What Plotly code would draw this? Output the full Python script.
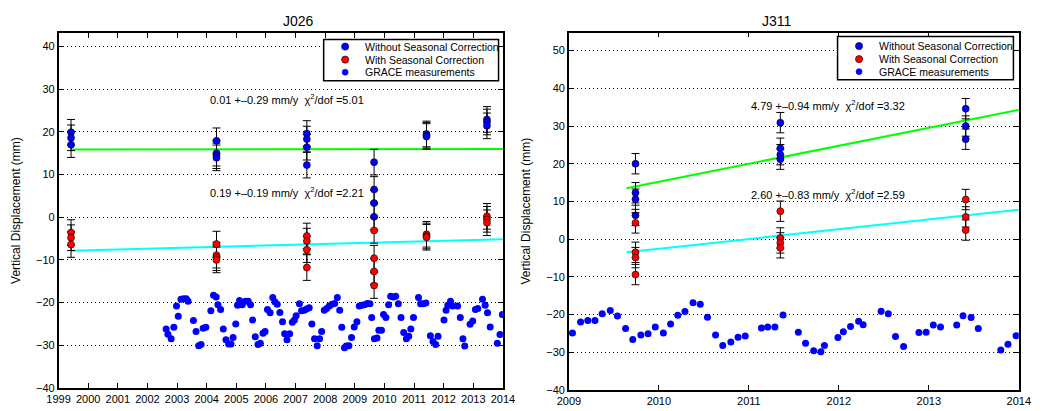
import plotly.graph_objects as go

# ---------------- J026 (left) ----------------
j026_epochs = [1999.42, 2004.33, 2007.38, 2009.65, 2011.42, 2013.46]
j026_raw = [[19.9, 18.6, 17.0], [17.9, 15.0, 14.4, 13.9], [19.6, 18.3, 16.4, 12.2],
            [12.9, 6.5, 3.3, 0.1], [19.5, 19.2, 18.9], [22.9, 22.3, 21.4]]
j026_corr = [[-3.6, -4.8, -6.4], [-6.3, -8.9, -9.5, -10.0], [-4.4, -5.6, -7.6, -11.8],
             [-3.1, -9.6, -12.7, -16.0], [-4.0, -4.4, -4.7], [0.2, -0.5, -1.3]]
j026_err = 3.0
j026_fit_x = [1999.42, 2014.0]
j026_fit_raw = [15.85, 15.95]
j026_fit_corr = [-7.85, -5.15]
j026_grace_t = [2002.63, 2002.69, 2002.80, 2002.89, 2002.98, 2003.04, 2003.13, 2003.22, 2003.31, 2003.37,
                2003.55, 2003.64, 2003.73, 2003.81, 2003.88, 2003.97, 2004.14, 2004.23, 2004.32, 2004.38,
                2004.47, 2004.56, 2004.65, 2004.74, 2004.82, 2004.89, 2004.98, 2005.04, 2005.11, 2005.20,
                2005.31, 2005.40, 2005.48, 2005.55, 2005.64, 2005.73, 2005.81, 2005.90, 2005.97, 2006.05,
                2006.14, 2006.23, 2006.30, 2006.38, 2006.47, 2006.56, 2006.63, 2006.71, 2006.80, 2006.89,
                2006.96, 2007.02, 2007.13, 2007.20, 2007.29, 2007.37, 2007.46, 2007.55, 2007.64, 2007.73,
                2007.81, 2007.88, 2007.97, 2008.05, 2008.14, 2008.23, 2008.32, 2008.41, 2008.49, 2008.56,
                2008.65, 2008.71, 2008.80, 2008.89, 2008.98, 2009.07, 2009.15, 2009.24, 2009.33, 2009.42,
                2009.51, 2009.57, 2009.66, 2009.75, 2009.81, 2009.90, 2009.97, 2010.05, 2010.14, 2010.21,
                2010.30, 2010.38, 2010.47, 2010.56, 2010.65, 2010.74, 2010.82, 2010.89, 2010.98, 2011.15,
                2011.22, 2011.31, 2011.40, 2011.55, 2011.64, 2011.73, 2011.81, 2012.01, 2012.08, 2012.14,
                2012.23, 2012.30, 2012.47, 2012.56, 2012.65, 2012.71, 2012.89, 2012.98, 2013.07, 2013.15,
                2013.31, 2013.40, 2013.48, 2013.57, 2013.81, 2013.90, 2013.98]
j026_grace_v = [-26.2, -27.4, -28.5, -25.8, -20.8, -23.2, -19.2, -19.1, -19.1, -19.7,
                -24.2, -26.8, -30.1, -29.8, -26.0, -25.8, -21.9, -18.3, -18.7, -20.5,
                -21.6, -26.2, -28.7, -29.7, -29.7, -28.2, -25.0, -20.6, -19.5, -20.5,
                -19.7, -19.7, -20.5, -24.1, -28.0, -29.8, -29.5, -27.2, -26.8, -21.6,
                -22.4, -18.8, -19.8, -20.4, -22.3, -24.5, -27.3, -28.7, -27.3, -24.6,
                -24.1, -23.1, -20.3, -21.9, -21.8, -21.5, -21.2, -25.0, -28.5, -30.1,
                -28.5, -26.8, -21.8, -21.4, -20.8, -20.4, -20.2, -18.8, -21.8, -25.8,
                -30.6, -30.2, -30.1, -28.2, -25.7, -24.5, -20.8, -20.6, -20.5, -20.2,
                -20.3, -23.5, -28.5, -28.3, -26.5, -26.5, -22.8, -23.5, -20.5, -18.5,
                -18.7, -18.5, -20.3, -23.5, -27.0, -28.5, -27.9, -26.2, -23.5, -18.8,
                -20.3, -20.3, -20.1, -27.8, -29.1, -29.8, -27.9, -24.1, -21.8, -20.6,
                -19.7, -20.8, -20.8, -23.5, -28.5, -30.2, -25.1, -24.3, -21.6, -21.4,
                -19.2, -20.6, -22.4, -25.7, -29.5, -27.5, -22.8]
j026_text_raw = "0.01 +\u20130.29 mm/y  \u03c7<sup>2</sup>/dof =5.01"
j026_text_corr = "0.19 +\u20130.19 mm/y  \u03c7<sup>2</sup>/dof =2.21"
j026_text_pos = [(2006.72, 27.7), (2006.72, 5.8)]

# ---------------- J311 (right) ----------------
j311_epochs = [2009.74, 2011.35, 2013.41]
j311_raw = [[20.0, 12.3, 10.6, 6.3], [30.9, 24.1, 22.4, 21.2], [34.6, 30.0, 26.5]]
j311_corr = [[4.3, -3.5, -4.9, -9.4], [7.4, 0.3, -1.0, -2.3], [10.5, 5.9, 2.4]]
j311_err = 2.7
j311_fit_x = [2009.64, 2014.0]
j311_fit_raw = [13.5, 34.3]
j311_fit_corr = [-3.5, 7.8]
j311_grace_t = [2009.04, 2009.13, 2009.21, 2009.29, 2009.37, 2009.46, 2009.54, 2009.63, 2009.71, 2009.80,
                2009.88, 2009.96, 2010.05, 2010.13, 2010.21, 2010.29, 2010.38, 2010.46, 2010.54, 2010.63,
                2010.71, 2010.80, 2010.88, 2010.96, 2011.14, 2011.21, 2011.29, 2011.38, 2011.55, 2011.63,
                2011.72, 2011.80, 2011.84, 2011.99, 2012.05, 2012.13, 2012.22, 2012.27, 2012.47, 2012.55,
                2012.63, 2012.72, 2012.89, 2012.97, 2013.05, 2013.13, 2013.31, 2013.38, 2013.47, 2013.55,
                2013.80, 2013.88, 2013.97]
j311_grace_v = [-24.9, -22.0, -21.6, -21.6, -19.8, -18.9, -20.4, -23.7, -26.6, -25.4,
                -25.1, -23.3, -24.9, -22.5, -20.2, -19.2, -16.9, -17.3, -20.7, -25.4,
                -28.2, -27.3, -26.0, -25.7, -23.6, -23.3, -23.3, -20.1, -24.7, -27.6,
                -29.6, -29.9, -28.2, -26.1, -24.6, -23.2, -21.8, -22.7, -19.1, -19.8,
                -25.8, -28.5, -24.8, -24.7, -22.8, -23.3, -22.8, -20.3, -20.8, -23.7,
                -29.4, -27.9, -25.6]
j311_text_raw = "4.79 +\u20130.94 mm/y  \u03c7<sup>2</sup>/dof =3.32"
j311_text_corr = "2.60 +\u20130.83 mm/y  \u03c7<sup>2</sup>/dof =2.59"
j311_text_pos = [(2011.88, 35.7), (2011.88, 12.0)]

titles = ["J026", "J311"]
legend_names = ["Without Seasonal Correction", "With Seasonal Correction", "GRACE measurements"]

FONT = "Liberation Sans, Arial, Helvetica, sans-serif"
BLUE = "#0000ff"
RED = "#ff0000"
W, H = 1043, 411

fig = go.Figure()


def flatten(epochs, groups):
    xs, ys = [], []
    for e, g in zip(epochs, groups):
        for v in g:
            xs.append(e)
            ys.append(v)
    return xs, ys


panels = [
    dict(epochs=j026_epochs, raw=j026_raw, corr=j026_corr, err=j026_err, fx=j026_fit_x,
         fr=j026_fit_raw, fc=j026_fit_corr, gt=j026_grace_t, gv=j026_grace_v,
         texts=[j026_text_raw, j026_text_corr], tpos=j026_text_pos, xa="x", ya="y",
         legbox=(319, 40, 498, 82), legsym_x=341, legtxt_x=359, legrows=(47.3, 60.5, 73.3)),
    dict(epochs=j311_epochs, raw=j311_raw, corr=j311_corr, err=j311_err, fx=j311_fit_x,
         fr=j311_fit_raw, fc=j311_fit_corr, gt=j311_grace_t, gv=j311_grace_v,
         texts=[j311_text_raw, j311_text_corr], tpos=j311_text_pos, xa="x2", ya="y2",
         legbox=(845, 37, 1025, 81), legsym_x=867, legtxt_x=885, legrows=(46.7, 60.0, 72.7)),
]

for p in panels:
    # fit lines
    fig.add_trace(go.Scatter(x=p["fx"], y=p["fr"], mode="lines", line=dict(color="#00ff00", width=2),
                             xaxis=p["xa"], yaxis=p["ya"], showlegend=False, hoverinfo="skip"))
    fig.add_trace(go.Scatter(x=p["fx"], y=p["fc"], mode="lines", line=dict(color="#00ffff", width=2),
                             xaxis=p["xa"], yaxis=p["ya"], showlegend=False, hoverinfo="skip"))
    for groups, col, name in [(p["raw"], BLUE, legend_names[0]), (p["corr"], RED, legend_names[1])]:
        xs, ys = flatten(p["epochs"], groups)
        fig.add_trace(go.Scatter(
            x=xs, y=ys, mode="markers", name=name, showlegend=False,
            marker=dict(color=col, size=7, line=dict(color="black", width=0.6)),
            error_y=dict(type="constant", value=p["err"], color="black", thickness=1, width=4),
            xaxis=p["xa"], yaxis=p["ya"]))
    fig.add_trace(go.Scatter(
        x=p["gt"], y=p["gv"], mode="markers", name=legend_names[2], showlegend=False,
        marker=dict(color=BLUE, size=7, symbol="circle"),
        xaxis=p["xa"], yaxis=p["ya"]))
    for t, (tx, ty) in zip(p["texts"], p["tpos"]):
        fig.add_annotation(x=tx, y=ty, xref=p["xa"], yref=p["ya"], text=t, showarrow=False,
                           font=dict(family=FONT, size=11, color="black"))

    # compact MATLAB-style legend box
    bx0, by0, bx1, by1 = p["legbox"]
    fig.add_shape(type="rect", xref="paper", yref="paper", x0=bx0 / W, x1=bx1 / W,
                  y0=(H - by1) / H, y1=(H - by0) / H, fillcolor="white",
                  line=dict(color="black", width=1.5), layer="above")
    sym_styles = [(BLUE, "black", 3.6), (RED, "black", 3.6), (BLUE, BLUE, 3.0)]
    for (fill, edge, r), name, ry in zip(sym_styles, legend_names, p["legrows"]):
        fig.add_shape(type="circle", xref="paper", yref="paper", xsizemode="pixel", ysizemode="pixel",
                      xanchor=p["legsym_x"] / W, yanchor=(H - ry) / H, x0=-r, x1=r, y0=-r, y1=r,
                      fillcolor=fill, line=dict(color=edge, width=0.6), layer="above")
        fig.add_annotation(x=p["legtxt_x"] / W, y=(H - ry) / H, xref="paper", yref="paper",
                           text=name, showarrow=False, xanchor="left", yanchor="middle",
                           font=dict(family=FONT, size=10.5, color="black"))

axis_common = dict(showline=True, linecolor="black", linewidth=1.5, mirror="ticks",
                   ticks="inside", ticklen=5, tickwidth=1, tickcolor="black",
                   tickfont=dict(family=FONT, size=11, color="black"), zeroline=False)

fig.update_layout(
    width=W, height=H, margin=dict(l=0, r=0, t=0, b=0),
    paper_bgcolor="white", plot_bgcolor="white",
    font=dict(family=FONT, color="black"),
    showlegend=False,
    xaxis=dict(domain=[47.7 / W, 502.5 / W], range=[1999, 2014], tickmode="linear", tick0=1999, dtick=1,
               showgrid=False, anchor="y", **axis_common),
    yaxis=dict(domain=[(H - 393.7) / H, (H - 33.7) / H], range=[-40, 43.1], tickmode="linear", tick0=-40,
               dtick=10, showgrid=True, gridcolor="black", griddash="1px,3px", gridwidth=1, anchor="x",
               title=dict(text="Vertical Displacement (mm)", font=dict(family=FONT, size=12), standoff=13),
               **axis_common),
    xaxis2=dict(domain=[570 / W, 1030.5 / W], range=[2009, 2014], tickmode="linear", tick0=2009, dtick=1,
                showgrid=False, anchor="y2", **axis_common),
    yaxis2=dict(domain=[(H - 395.7) / H, (H - 33) / H], range=[-40, 54.8], tickmode="linear", tick0=-40,
                dtick=10, showgrid=True, gridcolor="black", griddash="1px,3px", gridwidth=1, anchor="x2",
                title=dict(text="Vertical Displacement (mm)", font=dict(family=FONT, size=12), standoff=13),
                **axis_common),
)

for title, xc in zip(titles, [275 / W, 800 / W]):
    fig.add_annotation(x=xc, y=(H - 11) / H, xref="paper", yref="paper", text=title, showarrow=False,
                       font=dict(family=FONT, size=14, color="black"))

fig.write_html("out.html")
